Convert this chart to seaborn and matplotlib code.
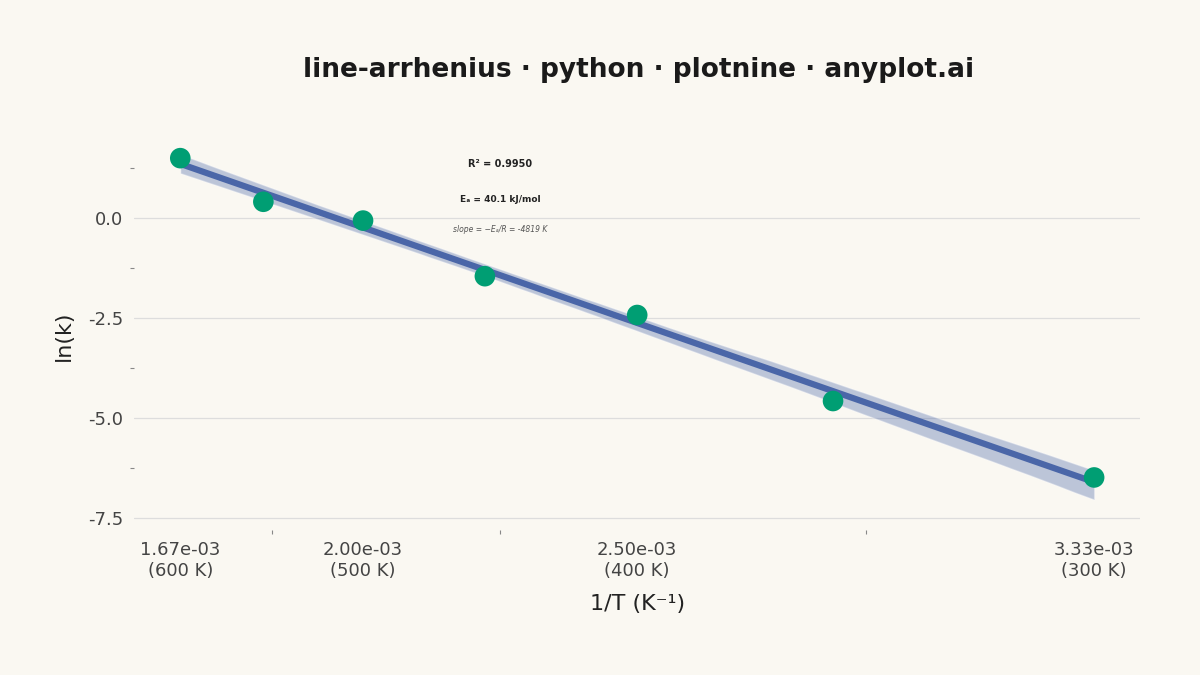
import numpy as np
import pandas as pd
import matplotlib
matplotlib.use("Agg")
import matplotlib.pyplot as plt
import seaborn as sns

T = [600, 550, 500, 450, 400, 350, 300]
lnk = [1.49, 0.40, -0.07, -1.46, -2.43, -4.58, -6.49]
major_T = [600, 500, 400, 300]
r2_text = "R² = 0.9950"
ea_text = "Eₐ = 40.1 kJ/mol"
slope_text = "slope = −Eₐ/R = -4819 K"

df = pd.DataFrame({"x": 1.0 / np.array(T, float), "y": lnk})
bg = "#faf8f2"
sns.set_theme(style="white")
plt.rcParams["font.family"] = ["DejaVu Sans"]
fig, ax = plt.subplots(figsize=(12, 6.75), dpi=100)
fig.patch.set_facecolor(bg)
ax.set_facecolor(bg)

sns.regplot(data=df, x="x", y="y", ax=ax, scatter=False, ci=95, seed=3,
            color="#9fd6bf", line_kws=dict(color="#4a66a8", lw=4.5, zorder=3))
for c in ax.collections:
    c.set_alpha(0.35)
sns.scatterplot(data=df, x="x", y="y", ax=ax, s=220, color="#009e73",
                edgecolor="none", zorder=5)

xt = [1.0 / t for t in major_T]
ax.set_xticks(xt)
ax.set_xticklabels([f"{1.0/t:.2e}\n({t} K)" for t in major_T])
ax.set_xticks([(xt[i] + xt[i + 1]) / 2 for i in range(len(xt) - 1)], minor=True)
ax.set_yticks([0.0, -2.5, -5.0, -7.5])
ax.set_yticklabels(["0.0", "-2.5", "-5.0", "-7.5"])
ax.set_yticks([1.25, -1.25, -3.75, -6.25], minor=True)
ax.tick_params(axis="both", which="major", labelsize=13, colors="#444444", length=0, pad=8)
ax.tick_params(axis="both", which="minor", length=3, color="#888888", width=0.8)
ax.tick_params(axis="x", which="minor", bottom=True)
ax.tick_params(axis="y", which="minor", left=True)
ax.set_xlim(1.583e-3, 3.417e-3)
ax.set_ylim(-7.8, 1.9)
ax.grid(axis="y", which="major", color="#dddddd", lw=0.9)
for s in ax.spines.values():
    s.set_visible(False)
ax.set_xlabel("1/T (K⁻¹)", fontsize=16, color="#222222", labelpad=10)
ax.set_ylabel("ln(k)", fontsize=16, color="#222222", labelpad=10)

ax.text(0.364, 0.935, r2_text, transform=ax.transAxes, ha="center", fontsize=7, fontweight="bold", color="#222222")
ax.text(0.364, 0.845, ea_text, transform=ax.transAxes, ha="center", fontsize=6.5, fontweight="bold", color="#222222")
ax.text(0.364, 0.768, slope_text, transform=ax.transAxes, ha="center", fontsize=5.5, style="italic", color="#555555")

fig.suptitle("line-arrhenius · python · plotnine · anyplot.ai", fontsize=19,
             fontweight="bold", color="#1a1a1a", x=0.532, y=0.915)
fig.subplots_adjust(left=0.112, right=0.95, top=0.79, bottom=0.215)
fig.savefig("out.png", dpi=100, facecolor=bg)
